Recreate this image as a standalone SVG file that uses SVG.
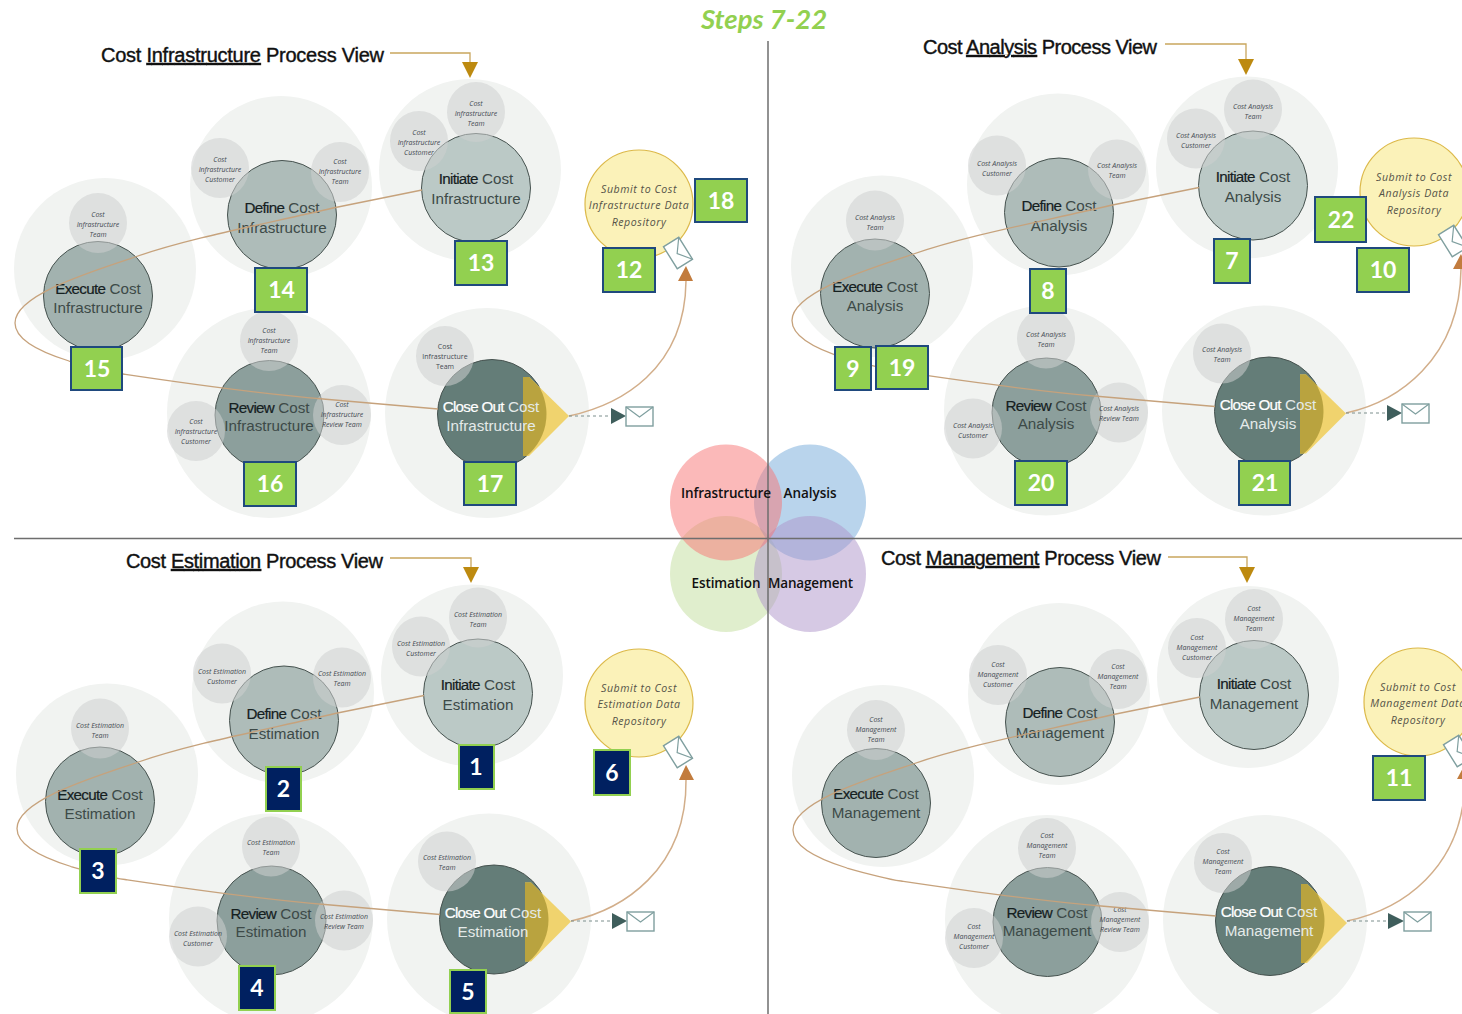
<svg xmlns="http://www.w3.org/2000/svg" xmlns:xlink="http://www.w3.org/1999/xlink" width="1462" height="1014" viewBox="0 0 1462 1014">
<style>
text{font-family:"Liberation Sans",Arial,sans-serif}
.halo{fill:#f1f3f1}
.s{fill:#ced0cf;opacity:.55}
.mn{stroke:#46524f;stroke-width:1;r:54.5px}
.e{fill:#a2b2af}.d{fill:#aebcb9}.i{fill:#bbc9c6}.r{fill:#8c9f9c}.c{fill:#647d78}
.t{font-size:15.2px;text-anchor:middle;fill:#3d4a48}
.t tspan.b{fill:#15201f;stroke:#15201f;stroke-width:.2;letter-spacing:-.7px}
.w{fill:#e4eae9}
.w tspan.b{fill:#fff;stroke:#fff;stroke-width:.2}
.st{font-family:"Open Sans",sans-serif;font-style:italic;font-size:7px;text-anchor:middle;fill:#444a52}
.tri{fill:#f0d36e}
.gold{fill:#b9a33f}
.y{fill:#fbf2b9;stroke:#dcb94a;stroke-width:1.2}
.yt{font-family:"Open Sans",sans-serif;font-style:italic;font-size:10.6px;letter-spacing:.55px;text-anchor:middle;fill:#555348}
.env{fill:#fff;stroke:#7f9f9f;stroke-width:1.4}
.flap{fill:none;stroke:#7f9f9f;stroke-width:1.2}
.flow{fill:none;stroke:#c6a27c;stroke-width:1.3}
.out{fill:none;stroke:#d2ae8a;stroke-width:1.5}
.dash{fill:none;stroke:#7c8f8d;stroke-width:1;stroke-dasharray:3 3}
.sendtri{fill:#3f5e5c}
.head{fill:#c27c3e}
.tl{fill:none;stroke:#c9a65e;stroke-width:1.3}
.thead{fill:#bd8a10}
.title{font-size:20px;fill:#111;stroke:#111;stroke-width:.4}
.title tspan.u{text-decoration:underline}
.bg rect{stroke-width:2}
.bg text{font-family:Lato,"Liberation Sans",sans-serif;font-weight:700;font-size:23px;text-anchor:middle;fill:#fff}
.g rect{fill:#92d050;stroke:#1f497d}
.n rect{fill:#002060;stroke:#92d050}
.ax{stroke:#6e6e6e;stroke-width:1.5}
.vt{font-family:"Open Sans",sans-serif;font-weight:600;font-size:13.5px;text-anchor:middle;fill:#111}
</style>
<defs>
<clipPath id="closeclip"><circle cx="492" cy="414" r="54.5"/></clipPath>
<path id="flowpath" class="flow" d="M422,190 L333,208 C260,225 190,238 135,257 C90,272 15,295 15,323 C15,340 40,352 69,361 C90,367 110,372 123,374 C170,381 250,393 323,399 L438,409"/>
<g id="envelope"><rect class="env" x="-13" y="-9" width="26" height="18"/><polyline class="flap" points="-13,-9 0,1 13,-9"/></g>
</defs>

<text x="764" y="29" style="font-family:Lato,'Liberation Sans',sans-serif;font-weight:700;font-style:italic;font-size:27.500px;fill:#92d050;text-anchor:middle">Steps 7-22</text>

<g id="titles">
<text class="title" x="101" y="62" textLength="283">Cost <tspan class="u">Infrastructure</tspan> Process View</text>
<text class="title" x="923" y="54" textLength="234">Cost <tspan class="u">Analysis</tspan> Process View</text>
<text class="title" x="126" y="568" textLength="257">Cost <tspan class="u">Estimation</tspan> Process View</text>
<text class="title" x="881" y="565" textLength="280">Cost <tspan class="u">Management</tspan> Process View</text>
</g>

<!-- Infrastructure -->
<g id="infrastructure-view">
<g id="execute-infrastructure"><ellipse class="halo" cx="105" cy="269" rx="91" ry="91"/><circle class="mn e" cx="98" cy="296" r="54"/><ellipse class="s" cx="98" cy="223" rx="29" ry="30"/><text class="st"><tspan x="98" y="217">Cost</tspan><tspan x="98" y="227">Infrastructure</tspan><tspan x="98" y="237">Team</tspan></text><text class="t"><tspan x="98" y="294"><tspan class="b">Execute</tspan> Cost</tspan><tspan x="98" y="313">Infrastructure</tspan></text></g>
<g id="define-infrastructure"><ellipse class="halo" cx="281" cy="187" rx="91" ry="91"/><circle class="mn d" cx="282" cy="215" r="54"/><ellipse class="s" cx="220" cy="168" rx="29" ry="30"/><ellipse class="s" cx="340" cy="172" rx="29" ry="30"/><text class="st"><tspan x="220" y="162">Cost</tspan><tspan x="220" y="172">Infrastructure</tspan><tspan x="220" y="182">Customer</tspan></text><text class="st"><tspan x="340" y="164">Cost</tspan><tspan x="340" y="174">Infrastructure</tspan><tspan x="340" y="184">Team</tspan></text><text class="t"><tspan x="282" y="213"><tspan class="b">Define</tspan> Cost</tspan><tspan x="282" y="233">Infrastructure</tspan></text></g>
<g id="initiate-infrastructure"><ellipse class="halo" cx="470" cy="170" rx="91" ry="91"/><circle class="mn i" cx="476" cy="188" r="54"/><ellipse class="s" cx="476" cy="112" rx="29" ry="30"/><ellipse class="s" cx="419" cy="141" rx="29" ry="30"/><text class="st"><tspan x="476" y="106">Cost</tspan><tspan x="476" y="116">Infrastructure</tspan><tspan x="476" y="126">Team</tspan></text><text class="st"><tspan x="419" y="135">Cost</tspan><tspan x="419" y="145">Infrastructure</tspan><tspan x="419" y="155">Customer</tspan></text><text class="t"><tspan x="476" y="184"><tspan class="b">Initiate</tspan> Cost</tspan><tspan x="476" y="204">Infrastructure</tspan></text></g>
<g id="review-infrastructure"><ellipse class="halo" cx="269" cy="413" rx="102" ry="105"/><circle class="mn r" cx="269.5" cy="415" r="54"/><ellipse class="s" cx="269" cy="341" rx="29" ry="30"/><ellipse class="s" cx="196" cy="431" rx="29" ry="30"/><ellipse class="s" cx="342" cy="415" rx="29" ry="30"/><text class="st"><tspan x="269" y="333">Cost</tspan><tspan x="269" y="343">Infrastructure</tspan><tspan x="269" y="353">Team</tspan></text><text class="st"><tspan x="196" y="424">Cost</tspan><tspan x="196" y="434">Infrastructure</tspan><tspan x="196" y="444">Customer</tspan></text><text class="st"><tspan x="342" y="407">Cost</tspan><tspan x="342" y="417">Infrastructure</tspan><tspan x="342" y="427">Review Team</tspan></text><text class="t"><tspan x="269" y="413"><tspan class="b">Review</tspan> Cost</tspan><tspan x="269" y="431">Infrastructure</tspan></text></g>
<g id="closeout-infrastructure"><ellipse class="halo" cx="487" cy="413" rx="102" ry="105"/><circle class="mn c" cx="492" cy="414" r="54"/><ellipse class="s" cx="445" cy="356" rx="29" ry="30"/><polygon class="tri" points="523,377 529,377 569,416 529,456 523,456"/><polygon class="gold" clip-path="url(#closeclip)" points="523,377 529,377 569,416 529,456 523,456"/><text class="st" style="font-style:normal"><tspan x="445" y="349">Cost</tspan><tspan x="445" y="359">Infrastructure</tspan><tspan x="445" y="369">Team</tspan></text><text class="t w"><tspan x="491" y="412"><tspan class="b">Close Out</tspan> Cost</tspan><tspan x="491" y="431">Infrastructure</tspan></text></g>
<g id="submit-infrastructure"><circle class="y" cx="639" cy="204" r="54"/><text class="yt"><tspan x="639" y="193">Submit to Cost</tspan><tspan x="639" y="209">Infrastructure Data</tspan><tspan x="639" y="226">Repository</tspan></text><use xlink:href="#envelope" href="#envelope" transform="translate(678,253) rotate(58)"/></g>
</g>

<!-- Analysis -->
<g id="analysis-view" transform="translate(777,-2.500)">
<g id="execute-analysis"><ellipse class="halo" cx="105" cy="269" rx="91" ry="91"/><circle class="mn e" cx="98" cy="296" r="54"/><ellipse class="s" cx="98" cy="223" rx="29" ry="30"/><text class="st"><tspan x="98" y="222">Cost Analysis</tspan><tspan x="98" y="232">Team</tspan></text><text class="t"><tspan x="98" y="294"><tspan class="b">Execute</tspan> Cost</tspan><tspan x="98" y="313">Analysis</tspan></text></g>
<g id="define-analysis"><ellipse class="halo" cx="281" cy="187" rx="91" ry="91"/><circle class="mn d" cx="282" cy="215" r="54"/><ellipse class="s" cx="220" cy="168" rx="29" ry="30"/><ellipse class="s" cx="340" cy="172" rx="29" ry="30"/><text class="st"><tspan x="220" y="168">Cost Analysis</tspan><tspan x="220" y="178">Customer</tspan></text><text class="st"><tspan x="340" y="170">Cost Analysis</tspan><tspan x="340" y="180">Team</tspan></text><text class="t"><tspan x="282" y="213"><tspan class="b">Define</tspan> Cost</tspan><tspan x="282" y="233">Analysis</tspan></text></g>
<g id="initiate-analysis"><ellipse class="halo" cx="470" cy="170" rx="91" ry="91"/><circle class="mn i" cx="476" cy="188" r="54"/><ellipse class="s" cx="476" cy="112" rx="29" ry="30"/><ellipse class="s" cx="419" cy="141" rx="29" ry="30"/><text class="st"><tspan x="476" y="111">Cost Analysis</tspan><tspan x="476" y="121">Team</tspan></text><text class="st"><tspan x="419" y="140">Cost Analysis</tspan><tspan x="419" y="150">Customer</tspan></text><text class="t"><tspan x="476" y="184"><tspan class="b">Initiate</tspan> Cost</tspan><tspan x="476" y="204">Analysis</tspan></text></g>
<g id="review-analysis"><ellipse class="halo" cx="269" cy="413" rx="102" ry="105"/><circle class="mn r" cx="269.5" cy="415" r="54"/><ellipse class="s" cx="269" cy="341" rx="29" ry="30"/><ellipse class="s" cx="196" cy="431" rx="29" ry="30"/><ellipse class="s" cx="342" cy="415" rx="29" ry="30"/><text class="st"><tspan x="269" y="339">Cost Analysis</tspan><tspan x="269" y="349">Team</tspan></text><text class="st"><tspan x="196" y="430">Cost Analysis</tspan><tspan x="196" y="440">Customer</tspan></text><text class="st"><tspan x="342" y="413">Cost Analysis</tspan><tspan x="342" y="423">Review Team</tspan></text><text class="t"><tspan x="269" y="413"><tspan class="b">Review</tspan> Cost</tspan><tspan x="269" y="431">Analysis</tspan></text></g>
<g id="closeout-analysis"><ellipse class="halo" cx="487" cy="413" rx="102" ry="105"/><circle class="mn c" cx="492" cy="414" r="54"/><ellipse class="s" cx="445" cy="356" rx="29" ry="30"/><polygon class="tri" points="523,377 529,377 569,416 529,456 523,456"/><polygon class="gold" clip-path="url(#closeclip)" points="523,377 529,377 569,416 529,456 523,456"/><text class="st"><tspan x="445" y="354">Cost Analysis</tspan><tspan x="445" y="364">Team</tspan></text><text class="t w"><tspan x="491" y="412"><tspan class="b">Close Out</tspan> Cost</tspan><tspan x="491" y="431">Analysis</tspan></text></g>
</g>
<g id="submit-analysis"><circle class="y" cx="1414" cy="192" r="54"/><text class="yt"><tspan x="1414" y="181">Submit to Cost</tspan><tspan x="1414" y="197">Analysis Data</tspan><tspan x="1414" y="214">Repository</tspan></text><use xlink:href="#envelope" href="#envelope" transform="translate(1453,241) rotate(58)"/></g>

<!-- Estimation -->
<g id="estimation-view" transform="translate(2,505.500)">
<g id="execute-estimation"><ellipse class="halo" cx="105" cy="269" rx="91" ry="91"/><circle class="mn e" cx="98" cy="296" r="54"/><ellipse class="s" cx="98" cy="223" rx="29" ry="30"/><text class="st"><tspan x="98" y="222">Cost Estimation</tspan><tspan x="98" y="232">Team</tspan></text><text class="t"><tspan x="98" y="294"><tspan class="b">Execute</tspan> Cost</tspan><tspan x="98" y="313">Estimation</tspan></text></g>
<g id="define-estimation"><ellipse class="halo" cx="281" cy="187" rx="91" ry="91"/><circle class="mn d" cx="282" cy="215" r="54"/><ellipse class="s" cx="220" cy="168" rx="29" ry="30"/><ellipse class="s" cx="340" cy="172" rx="29" ry="30"/><text class="st"><tspan x="220" y="168">Cost Estimation</tspan><tspan x="220" y="178">Customer</tspan></text><text class="st"><tspan x="340" y="170">Cost Estimation</tspan><tspan x="340" y="180">Team</tspan></text><text class="t"><tspan x="282" y="213"><tspan class="b">Define</tspan> Cost</tspan><tspan x="282" y="233">Estimation</tspan></text></g>
<g id="initiate-estimation"><ellipse class="halo" cx="470" cy="170" rx="91" ry="91"/><circle class="mn i" cx="476" cy="188" r="54"/><ellipse class="s" cx="476" cy="112" rx="29" ry="30"/><ellipse class="s" cx="419" cy="141" rx="29" ry="30"/><text class="st"><tspan x="476" y="111">Cost Estimation</tspan><tspan x="476" y="121">Team</tspan></text><text class="st"><tspan x="419" y="140">Cost Estimation</tspan><tspan x="419" y="150">Customer</tspan></text><text class="t"><tspan x="476" y="184"><tspan class="b">Initiate</tspan> Cost</tspan><tspan x="476" y="204">Estimation</tspan></text></g>
<g id="review-estimation"><ellipse class="halo" cx="269" cy="413" rx="102" ry="105"/><circle class="mn r" cx="269.5" cy="415" r="54"/><ellipse class="s" cx="269" cy="341" rx="29" ry="30"/><ellipse class="s" cx="196" cy="431" rx="29" ry="30"/><ellipse class="s" cx="342" cy="415" rx="29" ry="30"/><text class="st"><tspan x="269" y="339">Cost Estimation</tspan><tspan x="269" y="349">Team</tspan></text><text class="st"><tspan x="196" y="430">Cost Estimation</tspan><tspan x="196" y="440">Customer</tspan></text><text class="st"><tspan x="342" y="413">Cost Estimation</tspan><tspan x="342" y="423">Review Team</tspan></text><text class="t"><tspan x="269" y="413"><tspan class="b">Review</tspan> Cost</tspan><tspan x="269" y="431">Estimation</tspan></text></g>
<g id="closeout-estimation"><ellipse class="halo" cx="487" cy="413" rx="102" ry="105"/><circle class="mn c" cx="492" cy="414" r="54"/><ellipse class="s" cx="445" cy="356" rx="29" ry="30"/><polygon class="tri" points="523,377 529,377 569,416 529,456 523,456"/><polygon class="gold" clip-path="url(#closeclip)" points="523,377 529,377 569,416 529,456 523,456"/><text class="st"><tspan x="445" y="354">Cost Estimation</tspan><tspan x="445" y="364">Team</tspan></text><text class="t w"><tspan x="491" y="412"><tspan class="b">Close Out</tspan> Cost</tspan><tspan x="491" y="431">Estimation</tspan></text></g>
</g>
<g id="submit-estimation"><circle class="y" cx="639" cy="703" r="54"/><text class="yt"><tspan x="639" y="692">Submit to Cost</tspan><tspan x="639" y="708">Estimation Data</tspan><tspan x="639" y="725">Repository</tspan></text><use xlink:href="#envelope" href="#envelope" transform="translate(678,752) rotate(58)"/></g>

<!-- Management -->
<g id="management-view" transform="translate(778,507)">
<g id="execute-management"><ellipse class="halo" cx="105" cy="269" rx="91" ry="91"/><circle class="mn e" cx="98" cy="296" r="54"/><ellipse class="s" cx="98" cy="223" rx="29" ry="30"/><text class="st"><tspan x="98" y="215">Cost</tspan><tspan x="98" y="225">Management</tspan><tspan x="98" y="235">Team</tspan></text><text class="t"><tspan x="98" y="292"><tspan class="b">Execute</tspan> Cost</tspan><tspan x="98" y="311">Management</tspan></text></g>
<g id="define-management"><ellipse class="halo" cx="281" cy="187" rx="91" ry="91"/><circle class="mn d" cx="282" cy="215" r="54"/><ellipse class="s" cx="220" cy="168" rx="29" ry="30"/><ellipse class="s" cx="340" cy="172" rx="29" ry="30"/><text class="st"><tspan x="220" y="160">Cost</tspan><tspan x="220" y="170">Management</tspan><tspan x="220" y="180">Customer</tspan></text><text class="st"><tspan x="340" y="162">Cost</tspan><tspan x="340" y="172">Management</tspan><tspan x="340" y="182">Team</tspan></text><text class="t"><tspan x="282" y="211"><tspan class="b">Define</tspan> Cost</tspan><tspan x="282" y="231">Management</tspan></text></g>
<g id="initiate-management"><ellipse class="halo" cx="470" cy="170" rx="91" ry="91"/><circle class="mn i" cx="476" cy="188" r="54"/><ellipse class="s" cx="476" cy="112" rx="29" ry="30"/><ellipse class="s" cx="419" cy="141" rx="29" ry="30"/><text class="st"><tspan x="476" y="104">Cost</tspan><tspan x="476" y="114">Management</tspan><tspan x="476" y="124">Team</tspan></text><text class="st"><tspan x="419" y="133">Cost</tspan><tspan x="419" y="143">Management</tspan><tspan x="419" y="153">Customer</tspan></text><text class="t"><tspan x="476" y="182"><tspan class="b">Initiate</tspan> Cost</tspan><tspan x="476" y="202">Management</tspan></text></g>
<g id="review-management"><ellipse class="halo" cx="269" cy="413" rx="102" ry="105"/><circle class="mn r" cx="269.5" cy="415" r="54"/><ellipse class="s" cx="269" cy="341" rx="29" ry="30"/><ellipse class="s" cx="196" cy="431" rx="29" ry="30"/><ellipse class="s" cx="342" cy="415" rx="29" ry="30"/><text class="st"><tspan x="269" y="331">Cost</tspan><tspan x="269" y="341">Management</tspan><tspan x="269" y="351">Team</tspan></text><text class="st"><tspan x="196" y="422">Cost</tspan><tspan x="196" y="432">Management</tspan><tspan x="196" y="442">Customer</tspan></text><text class="st"><tspan x="342" y="405">Cost</tspan><tspan x="342" y="415">Management</tspan><tspan x="342" y="425">Review Team</tspan></text><text class="t"><tspan x="269" y="411"><tspan class="b">Review</tspan> Cost</tspan><tspan x="269" y="429">Management</tspan></text></g>
<g id="closeout-management"><ellipse class="halo" cx="487" cy="413" rx="102" ry="105"/><circle class="mn c" cx="492" cy="414" r="54"/><ellipse class="s" cx="445" cy="356" rx="29" ry="30"/><polygon class="tri" points="523,377 529,377 569,416 529,456 523,456"/><polygon class="gold" clip-path="url(#closeclip)" points="523,377 529,377 569,416 529,456 523,456"/><text class="st"><tspan x="445" y="347">Cost</tspan><tspan x="445" y="357">Management</tspan><tspan x="445" y="367">Team</tspan></text><text class="t w"><tspan x="491" y="410"><tspan class="b">Close Out</tspan> Cost</tspan><tspan x="491" y="429">Management</tspan></text></g>
</g>
<g id="submit-management"><circle class="y" cx="1418" cy="702" r="54"/><text class="yt"><tspan x="1418" y="691">Submit to Cost</tspan><tspan x="1418" y="707">Management Data</tspan><tspan x="1418" y="724">Repository</tspan></text><use xlink:href="#envelope" href="#envelope" transform="translate(1458,751) rotate(58)"/></g>

<g id="venn">
<ellipse cx="726" cy="574" rx="56" ry="58" fill="#c1dd9b" opacity=".5"/>
<ellipse cx="810" cy="502.500" rx="56" ry="58" fill="#73aad9" opacity=".5"/>
<ellipse cx="810" cy="574" rx="56" ry="58" fill="#ad93c9" opacity=".5"/>
<ellipse cx="726" cy="502.500" rx="56" ry="58" fill="#f77373" opacity=".5"/>
</g>
<g id="axes"><line class="ax" x1="768" y1="41" x2="768" y2="1014"/><line class="ax" x1="14" y1="538.500" x2="1462" y2="538.500"/></g>
<g id="venn-labels">
<text class="vt" x="726" y="498" textLength="90">Infrastructure</text>
<text class="vt" x="810" y="498" textLength="53">Analysis</text>
<text class="vt" x="726" y="588" textLength="69">Estimation</text>
<text class="vt" x="810.500" y="588" textLength="85">Management</text>
</g>

<g id="connectors">
<use xlink:href="#flowpath" href="#flowpath"/>
<use xlink:href="#flowpath" href="#flowpath" transform="translate(777,-2.500)"/>
<use xlink:href="#flowpath" href="#flowpath" transform="translate(2,505.500)"/>
<use xlink:href="#flowpath" href="#flowpath" transform="translate(778,507)"/>

<polyline class="tl" points="390,53 470,53 470,64"/><polygon class="thead" points="462,62 478,62 470,78"/>
<polyline class="tl" points="1165,44 1246,44 1246,60"/><polygon class="thead" points="1238,59 1254,59 1246,75"/>
<polyline class="tl" points="390,558 471,558 471,569"/><polygon class="thead" points="463,567 479,567 471,583"/>
<polyline class="tl" points="1168,557 1247,557 1247,569"/><polygon class="thead" points="1239,567 1255,567 1247,583"/>

<path class="out" d="M569,416 C620,405 685,370 686,281"/><polygon class="head" points="678,281 693,281 686,266"/>
<path class="out" d="M1346,413 C1397,402 1460,360 1461,269"/><polygon class="head" points="1453,269 1468,269 1461,254"/>
<path class="out" d="M571,921 C622,910 687,870 686,780"/><polygon class="head" points="679,780 694,780 686,765"/>
<path class="out" d="M1347,921 C1400,910 1464,870 1465,779"/><polygon class="head" points="1457,779 1472,779 1465,764"/>

<path class="dash" d="M569,416 H611"/><polygon class="sendtri" points="611,408 611,424 626,416"/><rect class="env" x="626" y="407" width="27" height="19"/><polyline class="flap" points="626,407 639.500,417 653,407"/>
<path class="dash" d="M1346,413 H1388"/><polygon class="sendtri" points="1387,405 1387,421 1402,413"/><rect class="env" x="1402" y="404" width="27" height="19"/><polyline class="flap" points="1402,404 1415.500,414 1429,404"/>
<path class="dash" d="M571,921 H612"/><polygon class="sendtri" points="612,913 612,929 627,921"/><rect class="env" x="627" y="912" width="27" height="19"/><polyline class="flap" points="627,912 640.500,922 654,912"/>
<path class="dash" d="M1347,921 H1388"/><polygon class="sendtri" points="1388,913 1388,929 1404,921"/><rect class="env" x="1404" y="912" width="27" height="19"/><polyline class="flap" points="1404,912 1417.500,922 1431,912"/>
</g>

<g id="badges">
<g id="b13" class="bg g"><rect x="455" y="241" width="52" height="44"/><text x="481" y="271">13</text></g>
<g id="b14" class="bg g"><rect x="255" y="268" width="52" height="44"/><text x="281.500" y="298">14</text></g>
<g id="b15" class="bg g"><rect x="71" y="347" width="51" height="43"/><text x="97" y="377">15</text></g>
<g id="b16" class="bg g"><rect x="244" y="462" width="52" height="44"/><text x="270" y="492">16</text></g>
<g id="b17" class="bg g"><rect x="464" y="462" width="52" height="43"/><text x="490" y="492">17</text></g>
<g id="b12" class="bg g"><rect x="603" y="248" width="52" height="44"/><text x="629" y="278">12</text></g>
<g id="b18" class="bg g"><rect x="695" y="179" width="52" height="43"/><text x="721" y="209">18</text></g>
<g id="b7" class="bg g"><rect x="1214" y="239" width="36" height="44"/><text x="1232" y="269">7</text></g>
<g id="b8" class="bg g"><rect x="1030" y="269" width="36" height="44"/><text x="1048" y="299">8</text></g>
<g id="b9" class="bg g"><rect x="835" y="347" width="36" height="43"/><text x="853" y="377">9</text></g>
<g id="b19" class="bg g"><rect x="876" y="346" width="52" height="43"/><text x="902" y="376">19</text></g>
<g id="b20" class="bg g"><rect x="1015" y="461" width="52" height="44"/><text x="1041" y="491">20</text></g>
<g id="b21" class="bg g"><rect x="1239" y="461" width="51" height="44"/><text x="1265" y="491">21</text></g>
<g id="b22" class="bg g"><rect x="1315" y="197" width="51" height="45"/><text x="1341" y="228">22</text></g>
<g id="b10" class="bg g"><rect x="1357" y="248" width="52" height="44"/><text x="1383" y="278">10</text></g>
<g id="b11" class="bg g"><rect x="1373" y="756" width="52" height="44"/><text x="1399" y="786">11</text></g>
<g id="b1" class="bg n"><rect x="459" y="745" width="35" height="44"/><text x="476" y="775">1</text></g>
<g id="b2" class="bg n"><rect x="266" y="767" width="35" height="44"/><text x="283.500" y="797">2</text></g>
<g id="b3" class="bg n"><rect x="80" y="849" width="36" height="44"/><text x="98" y="879">3</text></g>
<g id="b4" class="bg n"><rect x="239" y="966" width="36" height="44"/><text x="257" y="996">4</text></g>
<g id="b5" class="bg n"><rect x="450" y="970" width="36" height="43"/><text x="468" y="1000">5</text></g>
<g id="b6" class="bg n"><rect x="594" y="750" width="36" height="45"/><text x="612" y="781">6</text></g>
</g>
</svg>
